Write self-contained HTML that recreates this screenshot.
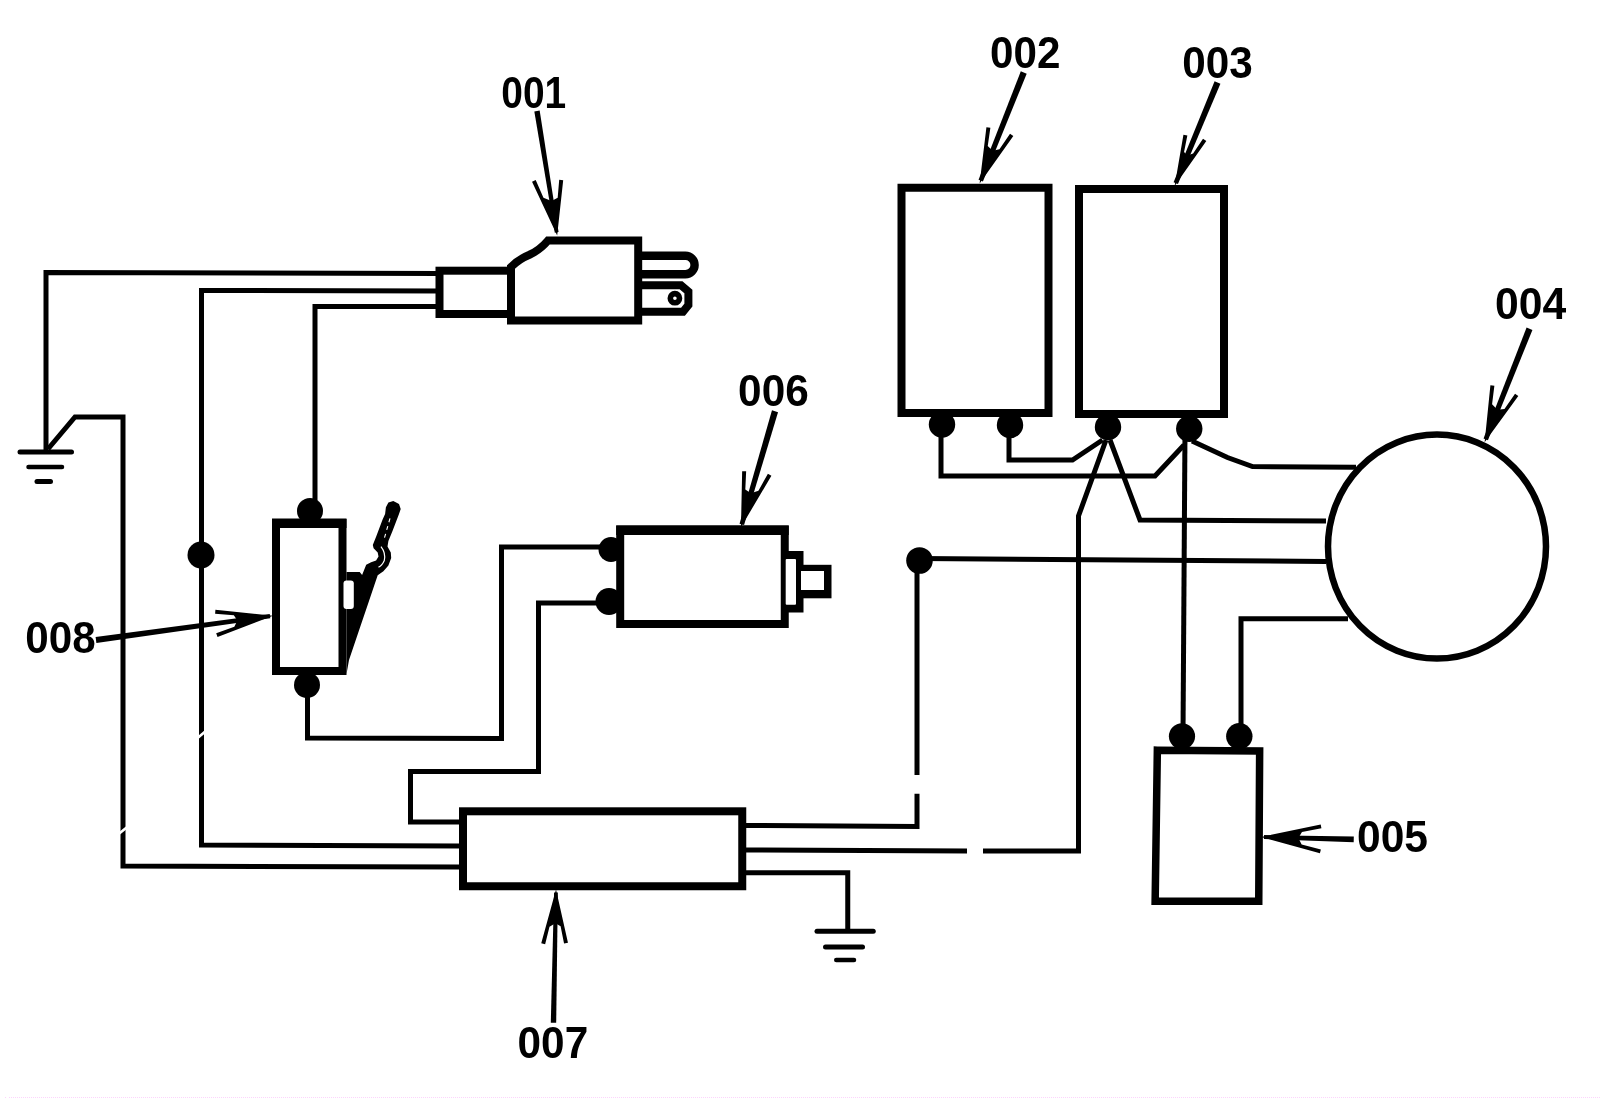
<!DOCTYPE html>
<html><head><meta charset="utf-8"><title>Wiring diagram</title>
<style>
html,body{margin:0;padding:0;background:#fff;width:1600px;height:1098px;overflow:hidden}
svg{position:absolute;left:0;top:0;display:block} text{filter:grayscale(1)}
</style></head><body>
<svg width="1600" height="1098" viewBox="0 0 1600 1098">
<g fill="none" stroke="#000" stroke-width="5" stroke-linejoin="miter" stroke-linecap="butt">
<path d="M440,273.5 L46,272.5 L46,452"/>
<path d="M48,449 L75,417 L123,417 L123,866 L459,867"/>
<path d="M440,291 L201.5,290.5 L201.5,845 L459,846"/>
<path d="M440,306.5 L315,306.5 L315,505"/>
<path d="M307.5,690 L307.5,738 L501.5,738.5 L501.5,547 L605,547"/>
<path d="M605,603 L538.5,603 L538.5,771.5 L410.5,771.5 L410.5,822 L459,822"/>
<path d="M746,825.5 L917,826.5 L917,793.8"/>
<path d="M917,775 L917,560.5"/>
<path d="M919.5,558.5 L1326,561.5"/>
<path d="M746,850 L967,851"/>
<path d="M983,851 L1078.5,851 L1078.5,516 L1106,440"/>
<path d="M746,872.75 L847.75,872.75 L847.75,931"/>
<path d="M941,425 L941,476 L1155,476 L1184,445"/>
<path d="M1009,425 L1009,460 L1072.5,460 L1102.5,440"/>
<path d="M1110,440 L1140,520 L1326,521"/>
<path d="M1185,430 L1183,736"/>
<path d="M1192,441 L1227.5,457.5 L1252.5,466.5 L1356,467.3"/>
<path d="M1348,618.75 L1241,618.75 L1241,736"/>
<path d="M20,452 L71.5,452" stroke-width="5" stroke-linecap="round"/>
<path d="M28.5,467 L62,467" stroke-width="4.5" stroke-linecap="round"/>
<path d="M37,481.5 L50.5,481.5" stroke-width="5" stroke-linecap="round"/>
<path d="M817,931.2 L873.25,931.2" stroke-width="5" stroke-linecap="round"/>
<path d="M825.5,947 L862.5,947" stroke-width="5" stroke-linecap="round"/>
<path d="M836.25,960 L854,960" stroke-width="4.5" stroke-linecap="round"/>
</g>
<path d="M118,834.5 L128.5,826 M197,738.5 L207,730" stroke="#fff" stroke-width="2.6" fill="none"/>
<g fill="#fff" stroke="#000">
<rect x="276.0" y="523.0" width="66.50" height="148.00" stroke-width="8"/>
<rect x="620.2" y="529.5" width="164.55" height="94.50" stroke-width="8"/>
<rect x="463.0" y="811.3" width="279.25" height="74.95" stroke-width="8"/>
<rect x="901.5" y="187.75" width="147.00" height="225.25" stroke-width="8"/>
<rect x="1079.0" y="189.0" width="145.00" height="225.00" stroke-width="8"/>
<rect x="616.2" y="525.5" width="172.55" height="9.5" fill="#000" stroke="none"/>
<rect x="272" y="518.5" width="74.5" height="9.5" fill="#000" stroke="none"/>
<path d="M1157.35,750.15 L1259.65,750.95 L1258.75,901.25 L1155.15,901.25 Z" stroke-width="7.5"/>
</g>
<ellipse cx="1437" cy="546.6" rx="109" ry="112" fill="none" stroke="#000" stroke-width="6.5"/>
<g fill="#000" stroke="none">
<circle cx="201" cy="555" r="13.5"/>
<circle cx="310" cy="511" r="13"/>
<circle cx="307" cy="685" r="13"/>
<circle cx="611" cy="549.5" r="12.5"/>
<circle cx="609" cy="601.5" r="13.5"/>
<circle cx="942" cy="424.5" r="13.2"/>
<circle cx="1010" cy="425" r="13.2"/>
<circle cx="1108" cy="427" r="13.2"/>
<circle cx="1189.25" cy="428.75" r="13.2"/>
<circle cx="919.5" cy="560.5" r="13.3"/>
<circle cx="1182" cy="736.25" r="13.1"/>
<circle cx="1239.3" cy="736.25" r="13.2"/>
</g>
<g stroke="none">
<rect x="781" y="551" width="22.5" height="61.5" fill="#000"/>
<rect x="785.7" y="559" width="10.3" height="45.8" fill="#fff" rx="1"/>
<rect x="796" y="564.8" width="35.5" height="33.5" fill="#000"/>
<rect x="801" y="571" width="23" height="19" fill="#fff"/>
</g>

<g fill="#fff" stroke="#000" stroke-width="8" stroke-linejoin="miter">
<path d="M639,255.8 H685.4 A9.2,9.2 0 0 1 685.4,274.2 H639" stroke-width="8.4"/>
<path d="M639,285.3 H681 L688.4,291.5 V305 L683,311.7 H639"/>
<rect x="439.5" y="270.7" width="71.5" height="43.3"/>
<path d="M511,267 Q519,259 529,255 Q540,250 548,240.5 H638.2 V320.5 H511 Z"/>
</g>
<circle cx="674.9" cy="298.2" r="4.6" fill="none" stroke="#000" stroke-width="5.6"/>


<polygon points="346.5,572 359.7,572 362.1,574.9 366.2,564.7 371.1,562.2 376.1,560.6 378.5,556.5 377.7,552.4 373.6,548.3 372.8,545 376.1,536.8 382.6,519.6 385.1,513.9 385.9,507.3 388.4,502.4 393.3,501.1 399,504 400.7,508.9 399,513.9 392.5,531 388.4,540.9 387.5,546.6 390.8,552.4 391.2,558.1 388.4,565.5 383.4,571.2 377.7,575.3 374.4,585 369,601 360.5,626 349,660 346.5,674" fill="#000"/>
<rect x="343.5" y="580.5" width="10.3" height="28.6" rx="3" fill="#fff"/>

<path d="M390,518.4 L384.3,538.4" fill="none" stroke="#fff" stroke-width="1.1" stroke-dasharray="4,4"/>
<path d="M381,546.6 Q386,553 384.3,560.6 Q382,566 378.5,567.1" fill="none" stroke="#fff" stroke-width="1.2"/>
<polygon fill="#000" points="534.33,111.43 554.80,232.73 558.56,232.12 539.67,110.57"/>
<polygon fill="#000" points="557.16,235.39 532.04,181.64 535.70,180.03 543.45,197.66 551.57,200.91 557.69,197.75 559.21,179.80 563.19,180.13"/>
<polygon fill="#000" points="1020.82,71.34 978.56,179.77 982.92,181.51 1026.68,73.66"/>
<polygon fill="#000" points="979.63,183.43 986.42,127.27 990.38,127.85 987.74,146.00 992.61,150.81 999.45,149.33 1010.01,133.66 1013.33,135.89"/>
<polygon fill="#000" points="1214.59,81.29 1173.60,182.25 1177.94,184.05 1220.41,83.71"/>
<polygon fill="#000" points="1174.62,185.92 1183.43,134.69 1187.35,135.47 1184.05,151.97 1187.24,155.48 1193.10,153.52 1203.00,138.67 1206.33,140.89"/>
<polygon fill="#000" points="1526.57,327.59 1483.55,438.53 1487.92,440.25 1532.43,329.91"/>
<polygon fill="#000" points="1484.63,442.18 1490.41,385.30 1494.38,385.80 1492.07,404.20 1497.45,409.77 1504.47,408.90 1515.03,393.63 1518.32,395.91"/>
<polygon fill="#000" points="1353.82,836.60 1264.05,835.05 1263.95,839.05 1353.68,842.20"/>
<polygon fill="#000" points="1261.00,836.97 1320.71,824.43 1321.44,828.36 1301.97,831.99 1298.37,837.95 1301.65,844.59 1320.89,849.47 1319.91,853.35"/>
<polygon fill="#000" points="771.98,410.36 739.56,523.67 744.07,524.99 778.02,412.14"/>
<polygon fill="#000" points="740.97,527.21 742.15,471.18 746.15,471.36 745.32,489.51 750.92,493.31 758.42,490.74 767.91,473.83 771.40,475.78"/>
<polygon fill="#000" points="556.20,1022.85 557.86,892.54 554.06,892.46 550.80,1022.75"/>
<polygon fill="#000" points="556.02,889.50 541.25,943.31 545.13,944.28 549.49,926.72 555.38,923.27 560.61,926.14 564.05,943.47 567.97,942.69"/>
<polygon fill="#000" points="96.41,642.97 270.32,618.25 269.72,613.89 95.59,637.03"/>
<polygon fill="#000" points="272.99,615.66 215.42,609.80 215.11,613.79 233.83,615.24 237.37,620.56 234.34,626.81 216.19,633.34 217.54,637.11"/>
<g font-family="&quot;Liberation Sans&quot;, sans-serif" font-weight="bold" font-size="100" fill="#000">
<text transform="translate(502.80,108.25) scale(0.3894,0.4437)" x="-4" y="-1">001</text>
<text transform="translate(991.80,68.25) scale(0.4219,0.4401)" x="-4" y="-1">002</text>
<text transform="translate(1183.90,78.00) scale(0.4225,0.4437)" x="-4" y="-1">003</text>
<text transform="translate(1496.80,319.90) scale(0.4269,0.4394)" x="-4" y="-1">004</text>
<text transform="translate(1358.70,852.80) scale(0.4256,0.4479)" x="-4" y="-1">005</text>
<text transform="translate(739.80,406.80) scale(0.4238,0.4479)" x="-4" y="-1">006</text>
<text transform="translate(519.25,1058.80) scale(0.4234,0.4437)" x="-4" y="-1">007</text>
<text transform="translate(27.00,653.90) scale(0.4219,0.4437)" x="-4" y="-1">008</text>
</g>
<line x1="9" y1="1097.5" x2="1600" y2="1097.5" stroke="#fcd4fc" stroke-width="1" stroke-dasharray="1,1"/><rect x="5" y="1097" width="1" height="1" fill="#fcd4fc"/>
</svg>
</body></html>
